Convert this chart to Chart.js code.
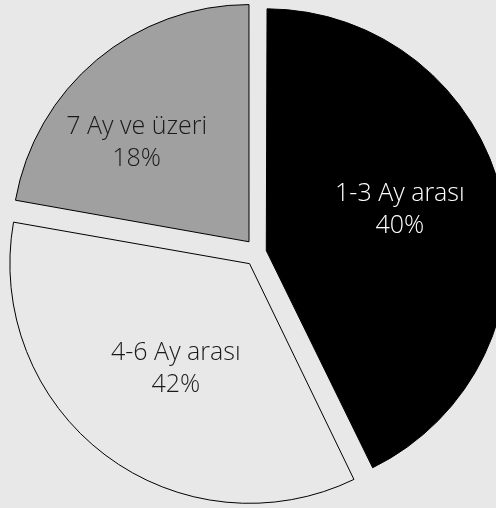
<!DOCTYPE html>
<html lang="tr">
<head>
<meta charset="utf-8">
<title>Süre Dağılımı</title>
<script src="https://cdn.jsdelivr.net/npm/chart.js@4.4.1/dist/chart.umd.min.js"></script>
<style>
    html, body { margin: 0; padding: 0; background: #e8e8e8; }
    #wrap { width: 496px; height: 508px; }
</style>
</head>
<body>
<div id="wrap"><canvas id="durationChart" width="496" height="508"></canvas></div>
<script>
// Dilimler (saat yönünde, tepeden başlayarak)
const categories = ['1-3 Ay arası', '4-6 Ay arası', '7 Ay ve üzeri'];
// resimdeki dilim açılarından okunan paylar
const sliceShares = [42.8, 35, 22.2];
// dilimlerin üzerinde yazan yüzdeler
const printedPercents = [40, 42, 18];

const sliceColors = ['#000000', '#e8e8e8', '#a0a0a0'];
const labelColors = ['#ffffff', '#1a1a1a', '#1a1a1a'];

// Dilim içi etiketler
const sliceLabels = {
    id: 'sliceLabels',
    afterDatasetsDraw(chart, args, opts) {
        const ctx = chart.ctx;
        const meta = chart.getDatasetMeta(0);
        meta.data.forEach((arc, i) => {
            const p = arc.getProps(['x', 'y', 'startAngle', 'endAngle', 'outerRadius'], true);
            const mid = (p.startAngle + p.endAngle) / 2;
            const shift = (arc.options.offset || 0) / 4; // v4 arc kayması
            const r = shift + p.outerRadius * opts.distance;
            const n = opts.nudge[i] || [0, 0];
            const lx = p.x + Math.cos(mid) * r + n[0];
            const ly = p.y + Math.sin(mid) * r + n[1];
            ctx.save();
            ctx.font = opts.font;
            ctx.fillStyle = labelColors[i];
            ctx.textAlign = 'center';
            ctx.textBaseline = 'middle';
            ctx.fillText(categories[i], lx, ly - opts.lineGap / 2);
            ctx.fillText(printedPercents[i] + '%', lx, ly + opts.lineGap / 2);
            ctx.restore();
        });
    }
};

function renderDurationChart() {
    const ctx = document.getElementById('durationChart').getContext('2d');
    new Chart(ctx, {
        type: 'pie',
        data: {
            labels: categories,
            datasets: [{
                data: sliceShares,
                backgroundColor: sliceColors,
                borderColor: '#000000',
                borderWidth: 1,
                offset: [34, 56, 56]
            }]
        },
        options: {
            responsive: false,
            animation: false,
            events: [],
            radius: 237,
            layout: { padding: { left: 20, right: 0, top: 0, bottom: 3 } },
            plugins: {
                legend: { display: false },
                tooltip: { enabled: false },
                sliceLabels: {
                    font: '300 25px "Open Sans"',
                    lineGap: 32,
                    distance: 0.6,
                    nudge: [[-5, -9], [12, -8], [-21, 10]]
                }
            }
        },
        plugins: [sliceLabels]
    });
}

document.addEventListener('DOMContentLoaded', () => {
    renderDurationChart();
});
</script>
</body>
</html>
